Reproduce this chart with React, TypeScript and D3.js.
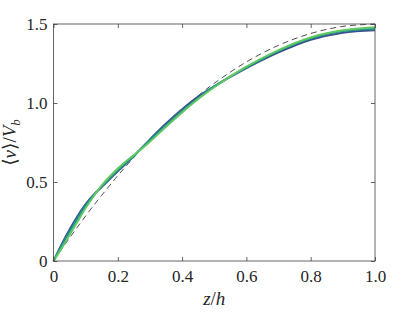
import React, { useEffect, useRef } from 'react';
import * as d3 from 'd3';

// z/h sample positions
const zVals = [0, 0.025, 0.05, 0.075, 0.1, 0.125, 0.15, 0.2, 0.225, 0.25, 0.3, 0.35, 0.4, 0.45, 0.5, 0.6, 0.7, 0.8, 0.9, 1.0];

// profiles
const blueVals = [0, 0.105, 0.20, 0.285, 0.36, 0.42, 0.468, 0.568, 0.615, 0.665, 0.77, 0.87, 0.96, 1.04, 1.105, 1.22, 1.32, 1.40, 1.445, 1.46];
const tealVals = [0, 0.095, 0.185, 0.27, 0.35, 0.415, 0.472, 0.575, 0.62, 0.665, 0.765, 0.86, 0.95, 1.03, 1.105, 1.225, 1.33, 1.41, 1.455, 1.47];
const greenVals = [0, 0.08, 0.165, 0.25, 0.335, 0.41, 0.478, 0.585, 0.63, 0.67, 0.755, 0.85, 0.94, 1.025, 1.10, 1.23, 1.335, 1.415, 1.46, 1.48];
const dashedVals = [0, 0.074, 0.146, 0.216, 0.285, 0.352, 0.416, 0.54, 0.599, 0.656, 0.765, 0.866, 0.96, 1.046, 1.125, 1.26, 1.365, 1.44, 1.485, 1.5];

const xTicks = [0, 0.2, 0.4, 0.6, 0.8, 1.0];
const xTickLabels = ['0', '0.2', '0.4', '0.6', '0.8', '1.0'];
const yTicks = [0, 0.5, 1.0, 1.5];
const yTickLabels = ['0', '0.5', '1.0', '1.5'];

const series = [
  { key: 'blue', values: blueVals, color: '#3b528b' },
  { key: 'teal', values: tealVals, color: '#21918c' },
  { key: 'green', values: greenVals, color: '#5ec962' },
];

const App = () => {
  const ref = useRef<SVGSVGElement>(null);

  useEffect(() => {
    const width = 415;
    const height = 312;
    const margin = { top: 24, right: 40, bottom: 51, left: 53.5 };
    const innerWidth = width - margin.left - margin.right;
    const innerHeight = height - margin.top - margin.bottom;
    const font = "'Liberation Serif', 'DejaVu Serif', serif";
    const axisColor = '#404040';

    const root = d3.select(ref.current);
    root.selectAll('*').remove();
    const svg = root.append('g').attr('transform', `translate(${margin.left}, ${margin.top})`);

    const xScale = d3.scaleLinear().domain([0, 1]).range([0, innerWidth]);
    const yScale = d3.scaleLinear().domain([0, 1.5]).range([innerHeight, 0]);

    const line = d3.line<[number, number]>()
      .x(d => xScale(d[0]))
      .y(d => yScale(d[1]))
      .curve(d3.curveCatmullRom.alpha(0.5));

    // dashed reference
    svg.append('path')
      .datum(zVals.map((z, i) => [z, dashedVals[i]] as [number, number]))
      .attr('d', line)
      .attr('fill', 'none')
      .attr('stroke', '#222')
      .attr('stroke-width', 0.8)
      .attr('stroke-dasharray', '6,4');

    svg.selectAll('.series')
      .data(series)
      .join('path')
      .attr('class', 'series')
      .attr('d', s => line(zVals.map((z, i) => [z, s.values[i]] as [number, number])))
      .attr('fill', 'none')
      .attr('stroke', s => s.color)
      .attr('stroke-width', 2);

    // box
    svg.append('rect')
      .attr('width', innerWidth)
      .attr('height', innerHeight)
      .attr('fill', 'none')
      .attr('stroke', axisColor)
      .attr('stroke-width', 0.8);

    // axes, ticks inward, mirrored
    const tk = 4;
    const xAxis = svg.append('g').attr('transform', `translate(0, ${innerHeight})`)
      .call(d3.axisBottom(xScale).tickValues(xTicks).tickSizeInner(-tk).tickSizeOuter(0).tickPadding(8)
        .tickFormat((d, i) => xTickLabels[i]));
    svg.append('g')
      .call(d3.axisTop(xScale).tickValues(xTicks).tickSizeInner(-tk).tickSizeOuter(0).tickFormat(() => ''));
    const yAxis = svg.append('g')
      .call(d3.axisLeft(yScale).tickValues(yTicks).tickSizeInner(-tk).tickSizeOuter(0).tickPadding(6)
        .tickFormat((d, i) => yTickLabels[i]));
    svg.append('g').attr('transform', `translate(${innerWidth}, 0)`)
      .call(d3.axisRight(yScale).tickValues(yTicks).tickSizeInner(-tk).tickSizeOuter(0).tickFormat(() => ''));

    svg.selectAll('.domain').remove();
    svg.selectAll('.tick line').attr('stroke', axisColor).attr('stroke-width', 0.8);
    // d3 axes set font-family="sans-serif" on the group; drop it
    svg.selectAll('g').attr('font-family', null);
    svg.selectAll('.tick text')
      .style('font-family', font)
      .style('font-size', '17px')
      .attr('fill', '#262626');
    xAxis.selectAll('.tick text').attr('dy', '0.75em');
    yAxis.selectAll('.tick text').attr('dy', '0.34em');

    // labels
    const xl = svg.append('text')
      .attr('x', innerWidth / 2)
      .attr('y', innerHeight + 44)
      .attr('text-anchor', 'middle')
      .style('font-family', font)
      .style('font-size', '19px')
      .attr('fill', '#262626');
    xl.append('tspan').style('font-style', 'italic').text('z');
    xl.append('tspan').text('/');
    xl.append('tspan').style('font-style', 'italic').text('h');

    const yl = svg.append('text')
      .attr('transform', `translate(${-38}, ${innerHeight / 2}) rotate(-90)`)
      .attr('text-anchor', 'middle')
      .style('font-family', font)
      .style('font-size', '19px')
      .attr('fill', '#262626');
    yl.append('tspan').text('⟨');
    yl.append('tspan').style('font-style', 'italic').text('v');
    yl.append('tspan').text('⟩/');
    yl.append('tspan').style('font-style', 'italic').text('V');
    yl.append('tspan').style('font-style', 'italic').style('font-size', '13px').attr('dy', 4).text('b');
  }, []);

  return (
    <svg ref={ref} width={415} height={312}
      style={{ position: 'absolute', left: 0, top: 0, background: '#fff' }} />
  );
};

export default App;
